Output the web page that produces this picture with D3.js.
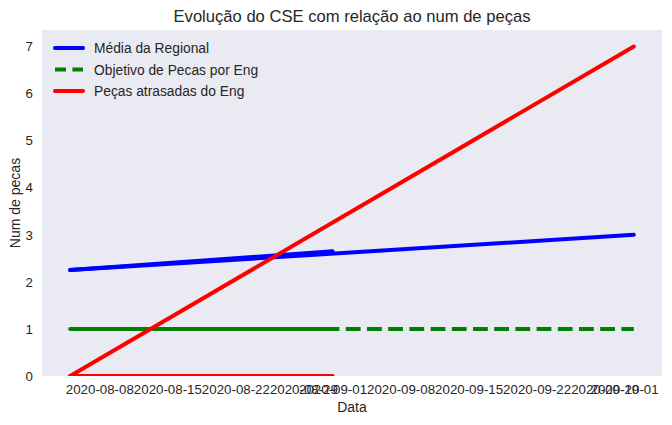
<!DOCTYPE html>
<html><head><meta charset="utf-8">
<script src="https://cdn.jsdelivr.net/npm/d3@7"></script>
<style>body{margin:0;background:#fff;} text{font-family:"Liberation Sans",Arial,sans-serif;fill:#262626;}</style>
</head><body><svg id="c" width="672" height="425"></svg>
<script>
// Data
const startDate = "2020-08-05", midDate = "2020-09-01", endDate = "2020-10-02";
const tickDates = ["2020-08-08","2020-08-15","2020-08-22","2020-08-29","2020-09-01","2020-09-08","2020-09-15","2020-09-22","2020-09-29","2020-10-01"];
const yTicks = [0,1,2,3,4,5,6,7];
const mediaRegional = [{d:startDate,v:2.25},{d:endDate,v:3.0}];
const mediaRegionalAtual = [{d:startDate,v:2.25},{d:midDate,v:2.65}];
const objetivo = [{d:startDate,v:1},{d:endDate,v:1}];
const objetivoAtual = [{d:startDate,v:1},{d:midDate,v:1}];
const atrasadas = [{d:startDate,v:0},{d:endDate,v:7}];
const atrasadasAtual = [{d:startDate,v:0},{d:midDate,v:0}];
const legendLabels = ["Média da Regional","Objetivo de Pecas por Eng","Peças atrasadas do Eng"];

const parse = d3.utcParse("%Y-%m-%d");
const svg = d3.select("#c");
const L=42, R=662, T=30, B=376;
const t0 = parse(startDate), t1 = parse(endDate);
const span = t1 - t0;
const x = d3.scaleUtc().domain([new Date(+t0 - span*0.05), new Date(+t1 + span*0.05)]).range([L,R]);
const y = d3.scaleLinear().domain([0, 7.35]).range([B,T]);

svg.append("rect").attr("x",L).attr("y",T).attr("width",R-L).attr("height",B-T).attr("fill","#EAEAF2");
svg.append("clipPath").attr("id","clip").append("rect").attr("x",L).attr("y",T).attr("width",R-L).attr("height",B-T);

const line = d3.line().x(p=>x(parse(p.d))).y(p=>y(p.v));
const g = svg.append("g").attr("clip-path","url(#clip)");
const series = [
  {data:mediaRegionalAtual,color:"#0000ff",dash:null},
  {data:objetivoAtual,color:"#008000",dash:null},
  {data:atrasadasAtual,color:"#ff0000",dash:null},
  {data:mediaRegional,color:"#0000ff",dash:null},
  {data:objetivo,color:"#008000",dash:"14.8,6.4"},
  {data:atrasadas,color:"#ff0000",dash:null}
];
series.forEach(s=>{
  g.append("path").attr("d",line(s.data)).attr("fill","none").attr("stroke",s.color)
   .attr("stroke-width",4).attr("stroke-linecap",s.dash?"butt":"round")
   .attr("stroke-dasharray",s.dash);
});

// axes
const xa = svg.append("g").attr("transform",`translate(0,${B})`)
  .call(d3.axisBottom(x).tickValues(tickDates.map(parse)).tickFormat(d3.utcFormat("%Y-%m-%d")).tickSize(0).tickPadding(9));
xa.select(".domain").remove();
xa.selectAll("text").style("font-size","13.3px").attr("fill","#262626");
const ya = svg.append("g").attr("transform",`translate(${L},0)`)
  .call(d3.axisLeft(y).tickValues(yTicks).tickSize(0).tickPadding(9));
ya.select(".domain").remove();
ya.selectAll("text").style("font-size","13.3px").attr("fill","#262626");

svg.append("text").attr("x",(L+R)/2).attr("y",22).attr("text-anchor","middle").style("font-size","16.6px").text("Evolução do CSE com relação ao num de peças");
svg.append("text").attr("x",(L+R)/2).attr("y",412).attr("text-anchor","middle").style("font-size","14px").text("Data");
svg.append("text").attr("transform",`translate(20,${(T+B)/2}) rotate(-90)`).attr("text-anchor","middle").style("font-size","14px").text("Num de pecas");

// legend
const lg = svg.append("g");
const legColors = ["#0000ff","#008000","#ff0000"];
const legDash = [null,"14.8,6.4",null];
legendLabels.forEach((lab,i)=>{
  const yy = 48 + i*21.5;
  lg.append("line").attr("x1",55).attr("x2",83).attr("y1",yy).attr("y2",yy).attr("stroke",legColors[i]).attr("stroke-width",4)
    .attr("stroke-linecap",legDash[i]?"butt":"round").attr("stroke-dasharray",legDash[i]? "11,6.4":null);
  lg.append("text").attr("x",94).attr("y",yy+5).style("font-size","13.8px").text(lab);
});
</script></body></html>
